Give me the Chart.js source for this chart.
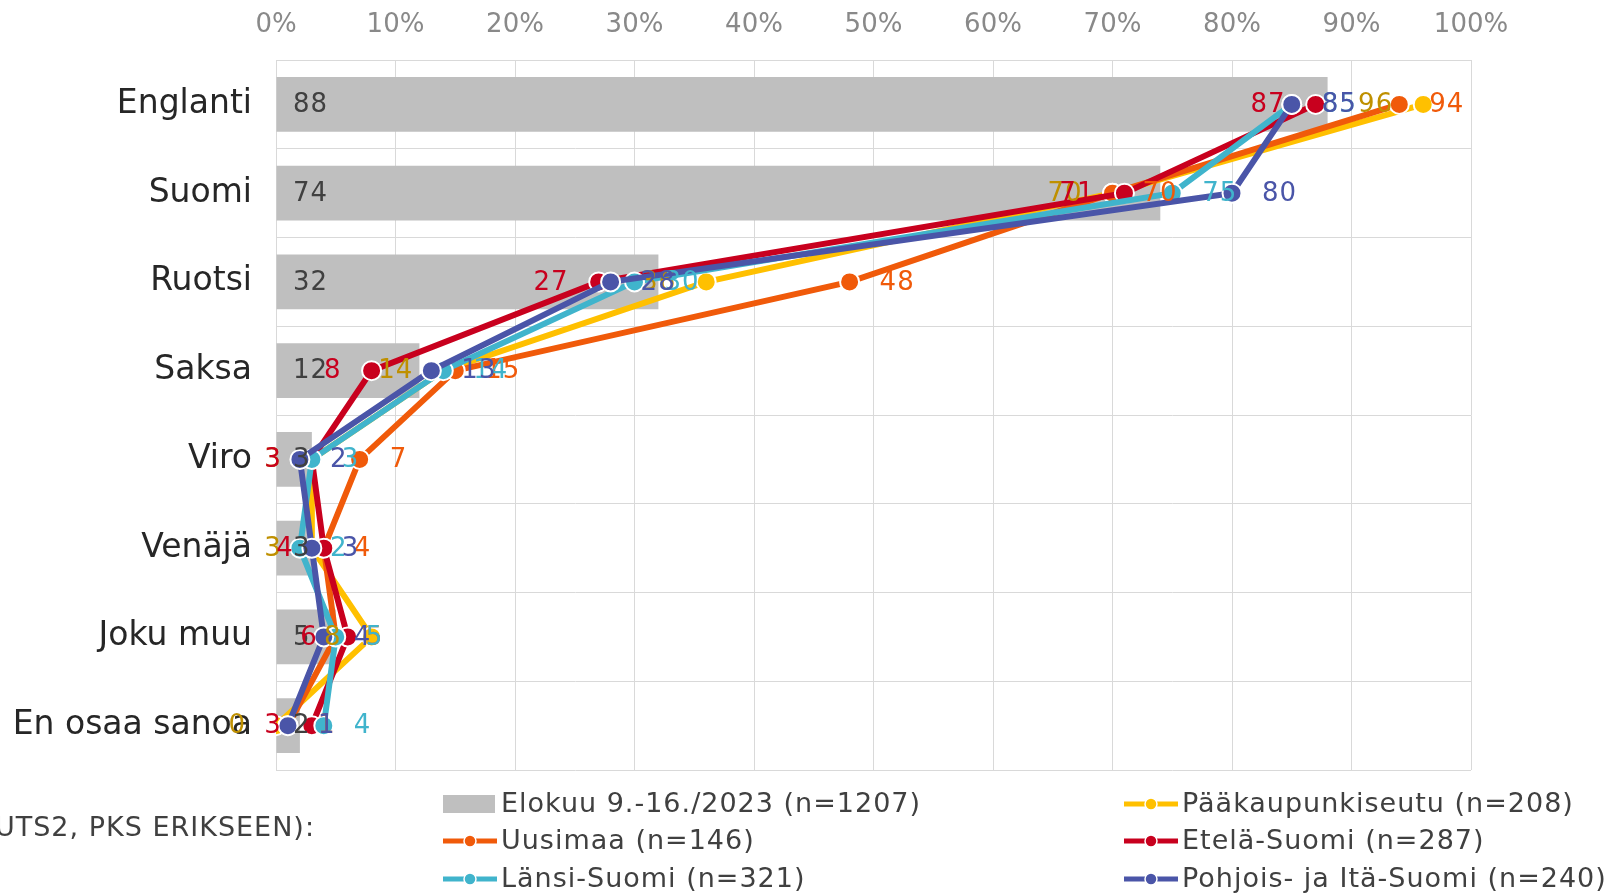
<!DOCTYPE html>
<html lang="fi">
<head>
<meta charset="UTF-8">
<title>Kielitaito alueittain</title>
<script src="https://cdn.jsdelivr.net/npm/chart.js"></script>
<style>
  html, body { margin: 0; padding: 0; background: #fff; }
  canvas { display: block; }
</style>
</head>
<body>
<canvas id="kielet" width="1617" height="896"></canvas>
<script>
  const FONT = '"DejaVu Sans", Verdana, sans-serif';

  const categories = ['Englanti', 'Suomi', 'Ruotsi', 'Saksa', 'Viro', 'Venäjä', 'Joku muu', 'En osaa sanoa'];
  const xTicks = [0, 10, 20, 30, 40, 50, 60, 70, 80, 90, 100];

  // kaikki vastaajat (palkit)
  const elokuu = [88, 74, 32, 12, 3, 3, 5, 2];
  // alueet (viivat)
  const pks = [96, 70, 36, 14, 3, 3, 8, 0];
  const uusimaa = [94, 70, 48, 15, 7, 4, 5, 1];
  const etelaSuomi = [87, 71, 27, 8, 3, 4, 6, 3];
  const lansiSuomi = [85, 75, 30, 14, 3, 2, 5, 4];
  const pohjoisIta = [85, 80, 28, 13, 2, 3, 4, 1];

  const seriesNames = [
    'Elokuu 9.-16./2023 (n=1207)',
    'Pääkaupunkiseutu (n=208)',
    'Uusimaa (n=146)',
    'Etelä-Suomi (n=287)',
    'Länsi-Suomi (n=321)',
    'Pohjois- ja Itä-Suomi (n=240)'
  ];

  function lineSet(label, data, color, textColor, side, order) {
    return {
      type: 'line',
      label,
      data,
      indexAxis: 'y',
      borderColor: color,
      backgroundColor: color,
      borderWidth: 6,
      pointRadius: 9.5,
      pointHoverRadius: 9.5,
      pointBackgroundColor: color,
      pointBorderColor: '#ffffff',
      pointBorderWidth: 2,
      tension: 0,
      order,
      labelColor: textColor,
      labelSide: side
    };
  }

  // arvot pisteiden ja palkkien viereen
  const valueLabels = {
    id: 'valueLabels',
    afterDatasetsDraw(chart) {
      const ctx = chart.ctx;
      ctx.save();
      ctx.font = '26px ' + FONT;
      ctx.letterSpacing = '1px';
      ctx.textBaseline = 'middle';
      chart.data.datasets.forEach((ds, i) => {
        const meta = chart.getDatasetMeta(i);
        meta.data.forEach((el, j) => {
          let x;
          if (ds.type === 'bar') {
            ctx.textAlign = 'left';
            x = chart.chartArea.left + 17;
          } else if (ds.labelSide === 'left') {
            ctx.textAlign = 'right';
            x = el.x - 30;
          } else {
            ctx.textAlign = 'left';
            x = el.x + 30;
          }
          ctx.fillStyle = ds.labelColor;
          ctx.fillText(String(ds.data[j]), x, el.y + 1);
        });
      });
      ctx.restore();
    }
  };

  // selite kahteen sarakkeeseen
  const legendBox = {
    id: 'legendBox',
    afterDraw(chart) {
      const ctx = chart.ctx;
      const sets = chart.data.datasets;
      const rows = [804, 841, 879];
      const cols = [443, 1124];
      const order = [[0, 2, 4], [1, 3, 5]];
      ctx.save();
      ctx.font = '27px ' + FONT;
      ctx.letterSpacing = '1px';
      ctx.textBaseline = 'middle';
      ctx.fillStyle = '#404040';
      ctx.textAlign = 'right';
      ctx.fillText('NUTS2, PKS ERIKSEEN):', 315, 829);
      order.forEach((col, c) => {
        col.forEach((di, r) => {
          const ds = sets[di];
          const x = cols[c];
          const y = rows[r];
          if (ds.type === 'bar') {
            ctx.fillStyle = ds.backgroundColor;
            ctx.fillRect(x, y - 9, 52, 18);
          } else {
            ctx.strokeStyle = ds.borderColor;
            ctx.lineWidth = 5;
            ctx.beginPath();
            ctx.moveTo(x, y);
            ctx.lineTo(x + 54, y);
            ctx.stroke();
            ctx.fillStyle = ds.borderColor;
            ctx.strokeStyle = '#ffffff';
            ctx.lineWidth = 1.5;
            ctx.beginPath();
            ctx.arc(x + 27, y, 6, 0, Math.PI * 2);
            ctx.fill();
            ctx.stroke();
          }
          ctx.fillStyle = '#404040';
          ctx.textAlign = 'left';
          ctx.fillText(ds.label, x + 58, y + 1);
        });
      });
      ctx.restore();
    }
  };

  new Chart(document.getElementById('kielet'), {
    type: 'bar',
    data: {
      labels: categories,
      datasets: [
        {
          type: 'bar',
          label: seriesNames[0],
          data: elokuu,
          backgroundColor: '#bfbfbf',
          barPercentage: 0.615,
          categoryPercentage: 1,
          order: 10,
          labelColor: '#404040'
        },
        lineSet(seriesNames[1], pks, '#ffc000', '#bf9000', 'left', 6),
        lineSet(seriesNames[2], uusimaa, '#f05a0a', '#f05a0a', 'right', 5),
        lineSet(seriesNames[3], etelaSuomi, '#c8001e', '#c8001e', 'left', 4),
        lineSet(seriesNames[4], lansiSuomi, '#40b4cc', '#40b4cc', 'right', 3),
        lineSet(seriesNames[5], pohjoisIta, '#4a55a8', '#4a55a8', 'right', 2)
      ]
    },
    options: {
      indexAxis: 'y',
      responsive: false,
      animation: false,
      devicePixelRatio: 1,
      layout: { padding: { left: 0, right: 146, top: 0, bottom: 126 } },
      plugins: {
        legend: { display: false },
        tooltip: { enabled: false }
      },
      scales: {
        x: {
          position: 'top',
          min: 0,
          max: 100,
          afterBuildTicks(scale) {
            scale.ticks = xTicks.map(v => ({ value: v }));
          },
          afterFit(scale) { scale.height = 60; },
          ticks: {
            callback: v => v + '%',
            color: '#898989',
            font: { family: FONT, size: 26 },
            padding: 19
          },
          grid: { color: '#d9d9d9', drawTicks: false },
          border: { color: '#d9d9d9' }
        },
        y: {
          afterFit(scale) { scale.width = 276; },
          ticks: {
            color: '#262626',
            font: { family: FONT, size: 33 },
            padding: 24
          },
          grid: { color: '#d9d9d9', drawTicks: false, offset: true },
          border: { color: '#d9d9d9' }
        }
      }
    },
    plugins: [valueLabels, legendBox]
  });
</script>
</body>
</html>
